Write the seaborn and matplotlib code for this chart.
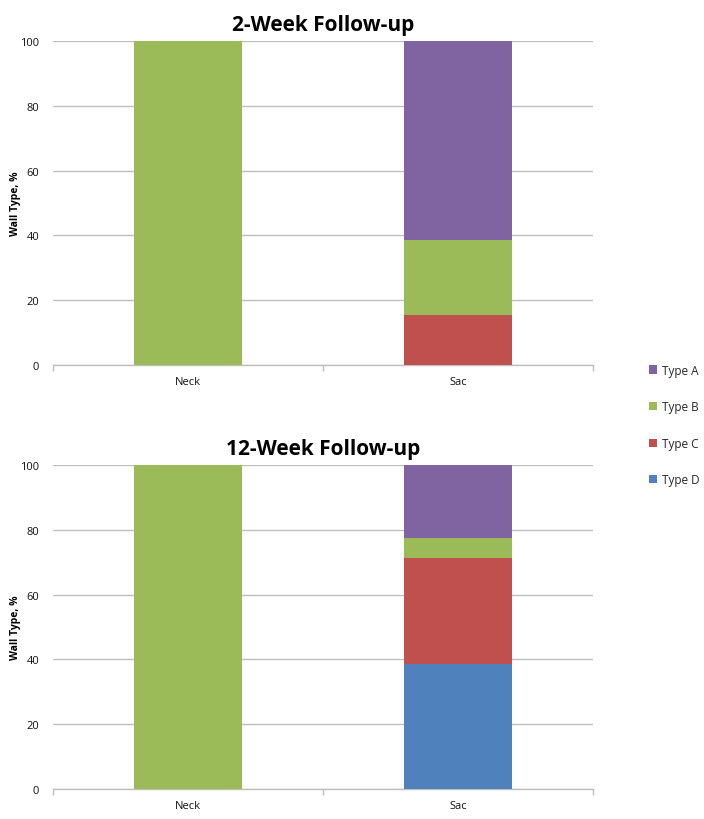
import matplotlib
matplotlib.use("Agg")
import matplotlib.pyplot as plt
import seaborn as sns
import pandas as pd
import numpy as np
from matplotlib.patches import Patch

sns.set_theme(style="white")
plt.rcParams['font.family'] = ['Open Sans', 'DejaVu Sans']

categories = ["Neck", "Sac"]
types = ["Type D", "Type C", "Type B", "Type A"]  # stacking order bottom->top
colors = {"Type A": "#8064A2", "Type B": "#9BBB59", "Type C": "#C0504D", "Type D": "#4F81BD"}

# 2-week follow-up values (%)
wk2_type_a = [0, 61.5]
wk2_type_b = [100, 23.1]
wk2_type_c = [0, 15.4]
wk2_type_d = [0, 0]

# 12-week follow-up values (%)
wk12_type_a = [0, 22.6]
wk12_type_b = [100, 6.0]
wk12_type_c = [0, 32.9]
wk12_type_d = [0, 38.5]

titles = ["2-Week Follow-up", "12-Week Follow-up"]
y_ticks = [0, 20, 40, 60, 80, 100]

panels = [
    {"Type A": wk2_type_a, "Type B": wk2_type_b, "Type C": wk2_type_c, "Type D": wk2_type_d},
    {"Type A": wk12_type_a, "Type B": wk12_type_b, "Type C": wk12_type_c, "Type D": wk12_type_d},
]

fig = plt.figure(figsize=(7.04, 8.2), dpi=100)
W, H = 704, 820
axes_px = [(53, 42, 593, 366), (53, 466, 593, 790)]

for (x0, y0, x1, y1), vals, title in zip(axes_px, panels, titles):
    ax = fig.add_axes([x0 / W, 1 - y1 / H, (x1 - x0) / W, (y1 - y0) / H])
    bottom = np.zeros(len(categories))
    for t in types:
        df = pd.DataFrame({"cat": categories, "val": vals[t]})
        sns.barplot(data=df, x="cat", y="val", color=colors[t], bottom=bottom,
                    width=0.4, ax=ax, saturation=1, linewidth=0, zorder=3)
        bottom = bottom + np.array(vals[t])
    ax.set_xlim(-0.5, 1.5)
    ax.set_ylim(0, 100)
    ax.set_yticks(y_ticks)
    ax.yaxis.grid(True, color="#BFBFBF", linewidth=1, zorder=0)
    ax.set_axisbelow(True)
    for s in ["top", "right", "left"]:
        ax.spines[s].set_visible(False)
    ax.spines["bottom"].set_color("#BFBFBF")
    ax.spines["bottom"].set_linewidth(1)
    ax.set_xticks([0, 1])
    ax.set_xticklabels(categories, fontsize=8, color="#111111")
    ax.set_xticks([-0.5, 0.5, 1.5], minor=True)
    ax.tick_params(axis="x", which="major", length=0, pad=8)
    ax.tick_params(axis="x", which="minor", length=4, color="#BFBFBF", width=1, direction="out", bottom=True)
    ax.tick_params(axis="y", length=0, labelsize=8, pad=10, labelcolor="#111111")
    ax.set_xlabel("")
    ax.set_ylabel("Wall Type, %", fontsize=7.5, fontweight="bold", color="black")
    ax.yaxis.set_label_coords((21 - x0) / (x1 - x0), 0.5)
    ax.set_title(title, fontsize=15, fontweight="bold", pad=8, color="black")

handles = [Patch(facecolor=colors[t], edgecolor="none") for t in ["Type A", "Type B", "Type C", "Type D"]]
fig.legend(handles, ["Type A", "Type B", "Type C", "Type D"], loc="center left",
           bbox_to_anchor=(652 / W - 0.02, 1 - 426 / H), frameon=False, fontsize=8.5,
           labelspacing=2.0, handlelength=0.7, handleheight=0.7, handletextpad=0.4)

fig.savefig("out.png", dpi=100)
